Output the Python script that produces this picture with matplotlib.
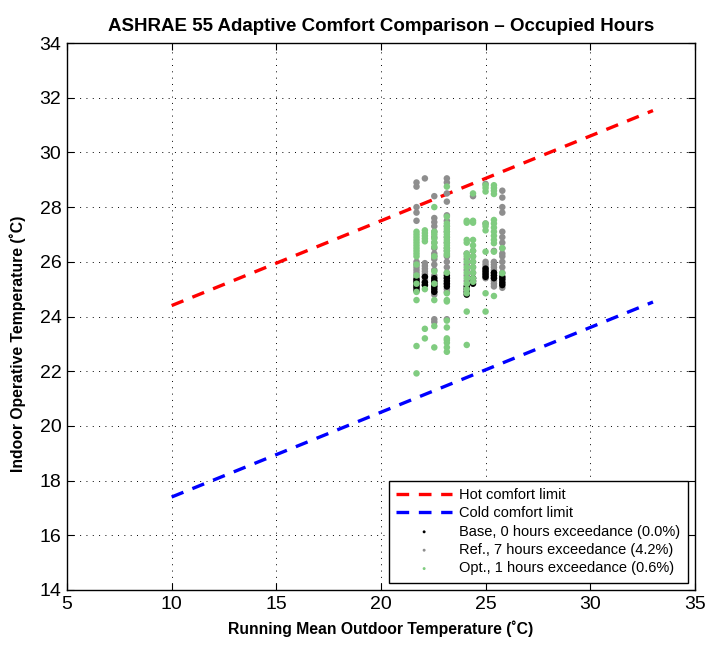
import numpy as np
import matplotlib
matplotlib.use("Agg")
import matplotlib.pyplot as plt

plt.rcParams['font.family'] = ['Liberation Sans', 'DejaVu Sans']

# -------------------------------
# Data
# -------------------------------
limit_x = [10, 33]
hot_limit = [24.4, 31.53]
cold_limit = [17.4, 24.53]

# running-mean outdoor temperature of each column of points
cols = [21.7, 22.1, 22.55, 23.15, 24.1, 24.4, 25.0, 25.4, 25.8]

base_temps = [
    [24.95, 25.05, 25.15, 25.25, 25.35],
    [25.15, 25.25, 25.45],
    [24.9, 25.0, 25.1, 25.2, 25.3, 25.4],
    [25.1, 25.2, 25.3, 25.4, 25.5],
    [24.8, 24.9, 25.0, 25.1],
    [25.2, 25.3, 25.4],
    [25.45, 25.55, 25.65, 25.75],
    [25.4, 25.5, 25.6],
    [25.15, 25.25, 25.35, 25.45],
]

ref_temps = [
    [28.75, 28.9, 28.0, 27.8, 27.5, 26.0, 25.9, 25.8, 25.7, 25.6, 25.5, 25.4, 25.3, 25.2, 25.1],
    [29.05, 25.95, 25.85, 25.75, 25.65, 25.55, 25.45, 25.35, 25.25, 25.15],
    [28.4, 27.6, 27.45, 27.3, 27.1, 26.9, 26.7, 26.5, 26.3, 26.2, 26.1, 25.9, 25.7, 25.5,
     25.3, 25.1, 24.9, 24.8, 23.9, 23.8],
    [29.05, 28.9, 28.5, 28.2, 27.7, 27.5, 27.3, 27.1, 26.9, 26.7, 26.5, 26.4, 26.2, 26.0,
     25.8, 25.6, 25.4, 25.2, 25.0, 24.9, 23.9],
    [26.3, 26.1, 25.9, 25.7, 25.5, 25.3],
    [28.4, 26.4, 26.2, 26.0, 25.8, 25.6, 25.4],
    [28.85, 27.4, 26.0, 25.9, 25.8, 25.7, 25.6, 25.5, 25.4],
    [26.4, 26.0, 25.9, 25.8, 25.7, 25.6, 25.5, 25.4, 25.3, 25.2, 25.1],
    [28.6, 28.35, 28.0, 27.8, 27.1, 26.9, 26.7, 26.5, 26.3, 26.2, 26.0, 25.8, 25.6, 25.4,
     25.2, 25.05],
]

opt_temps = [
    [27.1, 27.0, 26.9, 26.8, 26.7, 26.6, 26.5, 26.4, 26.3, 26.2, 25.9, 25.5, 25.2, 24.9,
     24.6, 22.92, 21.92],
    [27.15, 27.05, 26.95, 26.85, 26.75, 25.0, 23.55, 23.2],
    [28.0, 27.1, 27.0, 26.85, 26.7, 26.55, 26.2, 25.65, 25.2, 24.6, 23.65, 22.87],
    [28.75, 27.65, 27.4, 27.3, 27.2, 27.1, 27.0, 26.9, 26.8, 26.7, 26.6, 26.5, 26.4, 26.3,
     26.25, 25.6, 24.85, 24.6, 24.55, 23.85, 23.6, 23.2, 23.14, 23.04, 22.87, 22.71],
    [27.5, 27.43, 26.8, 26.7, 26.3, 26.2, 26.0, 25.8, 25.6, 25.4, 25.2, 25.0, 24.85,
     24.18, 22.96],
    [28.5, 27.5, 27.43, 26.8, 26.6, 26.4, 26.2, 26.0, 25.8, 25.6, 25.4, 25.27],
    [28.8, 28.7, 28.57, 27.4, 27.3, 27.15, 26.37, 24.85, 24.18],
    [28.8, 28.7, 28.6, 28.48, 27.53, 27.4, 27.25, 27.1, 26.95, 26.8, 26.68, 26.37, 24.75],
    [26.5, 25.58],
]

labels = ["Hot comfort limit", "Cold comfort limit",
          "Base, 0 hours exceedance (0.0%)",
          "Ref., 7 hours exceedance (4.2%)",
          "Opt., 1 hours exceedance (0.6%)"]


def flatten(temps):
    xs, ys = [], []
    for x, col in zip(cols, temps):
        xs += [x] * len(col)
        ys += col
    return xs, ys


# -------------------------------
# Plot
# -------------------------------
fig = plt.figure(figsize=(7.07, 6.46), dpi=100)
ax = fig.add_axes([0.0948, 0.0867, 0.888, 0.8467])

dash = (0, (3.8, 2.9))
h_hot, = ax.plot(limit_x, hot_limit, color='red', lw=2.4, linestyle=dash)
h_cold, = ax.plot(limit_x, cold_limit, color='blue', lw=2.4, linestyle=dash)

bx, by = flatten(base_temps)
rx, ry = flatten(ref_temps)
ox, oy = flatten(opt_temps)
h_ref = ax.scatter(rx, ry, s=22, color='#8e8e8e', edgecolors='none', zorder=3)
h_base = ax.scatter(bx, by, s=22, color='black', edgecolors='none', zorder=4)
h_opt = ax.scatter(ox, oy, s=22, color='#80cc80', edgecolors='none', zorder=5)

ax.set_xlim(5, 35)
ax.set_ylim(14, 34)
ax.set_xticks(range(5, 36, 5))
ax.set_yticks(range(14, 35, 2))
ax.tick_params(direction='in', top=True, right=True, labelsize=14, length=5, pad=4)
ax.grid(True, linestyle=(0, (1, 5.5)), color='black', linewidth=0.7)
ax.set_axisbelow(True)
for s in ax.spines.values():
    s.set_linewidth(1.0)

ax.set_title("ASHRAE 55 Adaptive Comfort Comparison \u2013 Occupied Hours",
             fontsize=13.5, fontweight='bold', pad=9)
ax.set_xlabel("Running Mean Outdoor Temperature (\u02daC)", fontsize=11.3,
              fontweight='bold', labelpad=6)
ax.set_ylabel("Indoor Operative Temperature (\u02daC)", fontsize=11.3,
              fontweight='bold')
ax.yaxis.set_label_coords(-0.065, 0.45)

leg = ax.legend([h_hot, h_cold, h_base, h_ref, h_opt], labels, loc='lower right',
                fontsize=10.5, handlelength=3.8, handletextpad=0.5, markerscale=0.45,
                fancybox=False, framealpha=1, edgecolor='black', borderaxespad=0.5,
                labelspacing=0.3, borderpad=0.5)
leg.get_frame().set_linewidth(1.0)

plt.savefig("out.png", dpi=100)
